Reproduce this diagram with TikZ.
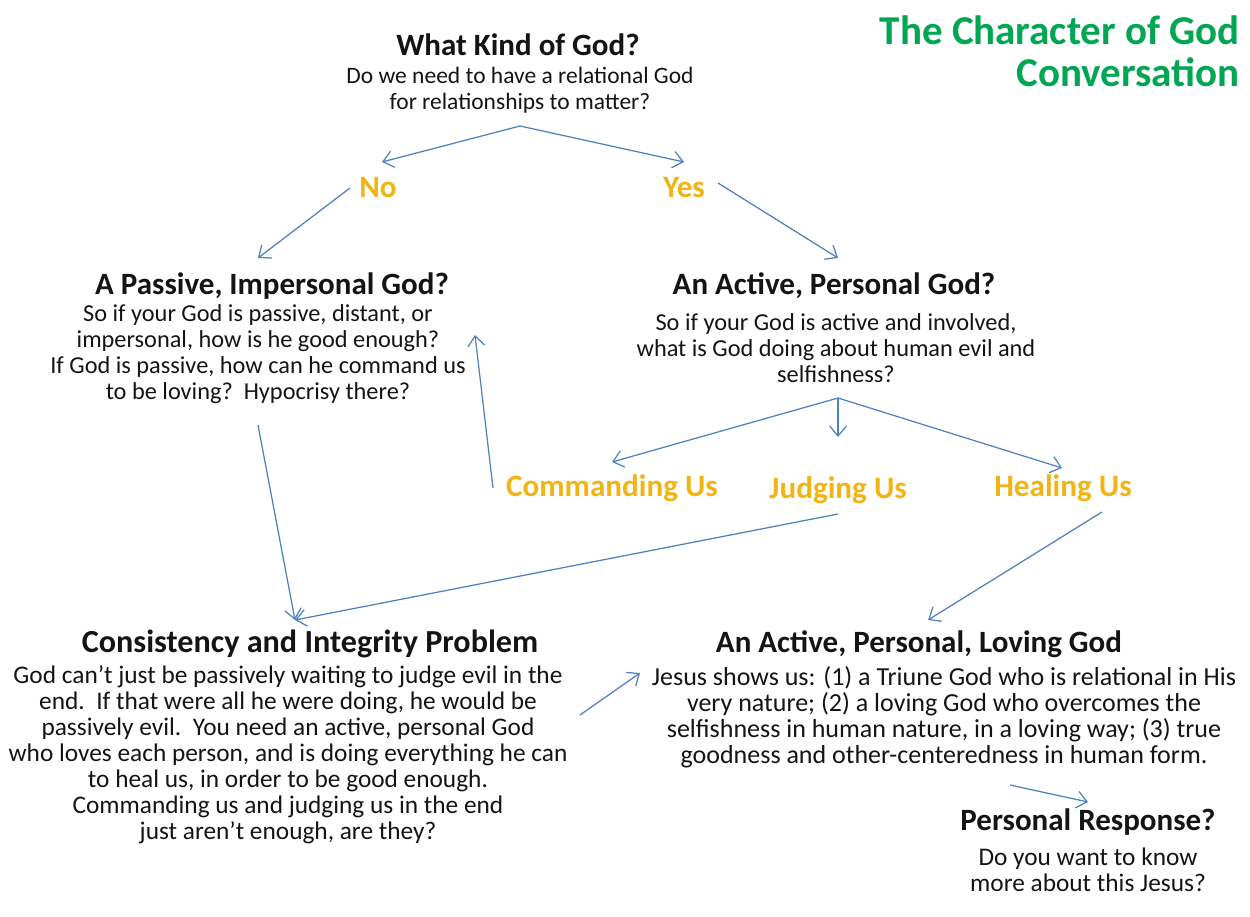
\documentclass[tikz,border=0pt]{standalone}
\usepackage{fontspec}
\setmainfont{Carlito}
\usetikzlibrary{arrows.meta}
\definecolor{arrowblue}{RGB}{79,129,189}
\definecolor{labelgold}{RGB}{242,180,20}
\definecolor{titlegreen}{RGB}{0,166,81}
\definecolor{textblack}{RGB}{20,20,20}
\tikzset{
  conn/.style={draw=arrowblue, line width=0.75pt, -{Straight Barb[length=6pt,width=10pt,line width=0.75pt]}},
  head/.style={font=\fontsize{18.6}{21}\selectfont\bfseries, text=textblack, inner sep=0pt, align=center},
  bodytext/.style={font=\fontsize{14.6}{15.6}\selectfont, text=textblack, inner sep=0pt, align=center},
  choice/.style={font=\fontsize{18.7}{21}\selectfont\bfseries, text=labelgold, inner sep=0pt, align=center},
  titletext/.style={font=\fontsize{24.6}{25.2}\selectfont\bfseries, text=titlegreen, inner sep=0pt, align=right}
}
\begin{document}
\begin{tikzpicture}[x=0.6pt,y=-0.6pt]
\useasboundingbox (0,0) rectangle (1250,917);
% title
\node[titletext, anchor=east] (title) at (1240,51) {The Character of God\\Conversation};
% top question
\node[head] (q1h) at (518,45) {What Kind of God?};
\node[bodytext, font=\fontsize{14.1}{15.6}\selectfont] (q1b) at (520,90) {Do we need to have a relational God\\for relationships to matter?};
% choices
\node[choice] (no) at (378,188) {No};
\node[choice] (yes) at (684,188) {Yes};
% passive
\node[head] (pash) at (272,286) {A Passive, Impersonal God?};
\node[bodytext] (pasb) at (258,354) {So if your God is passive, distant, or\\impersonal, how is he good enough?\\If God is passive, how can he command us\\to be loving?\ \ Hypocrisy there?};
% active
\node[head] (acth) at (834,286) {An Active, Personal God?};
\node[bodytext] (actb) at (836,348) {So if your God is active and involved,\\what is God doing about human evil and\\selfishness?};
% three options
\node[choice] (cmd) at (612,488) {Commanding Us};
\node[choice] (jdg) at (838,490) {Judging Us};
\node[choice] (heal) at (1063,488) {Healing Us};
% consistency
\node[head, font=\fontsize{19.3}{21}\selectfont\bfseries] (conh) at (310,644) {Consistency and Integrity Problem};
\node[bodytext, font=\fontsize{15.2}{15.6}\selectfont] (conb) at (288,755) {God can’t just be passively waiting to judge evil in the\\end.\ \ If that were all he were doing, he would be\\passively evil.\ \ You need an active, personal God\\who loves each person, and is doing everything he can\\to heal us, in order to be good enough.\\Commanding us and judging us in the end\\just aren’t enough, are they?};
% loving
\node[head] (lovh) at (919,644) {An Active, Personal, Loving God};
\node[bodytext, font=\fontsize{15.6}{15.6}\selectfont] (lovb) at (944,717) {Jesus shows us: (1) a Triune God who is relational in His\\very nature; (2) a loving God who overcomes the\\selfishness in human nature, in a loving way; (3) true\\goodness and other-centeredness in human form.};
% response
\node[head] (resh) at (1088,822) {Personal Response?};
\node[bodytext, font=\fontsize{15.2}{15.6}\selectfont] (resb) at (1088,870) {Do you want to know\\more about this Jesus?};
% connector end points
\coordinate (q1out) at (520,126);
\coordinate (noin) at (382,162);
\coordinate (yesin) at (684,162);
\coordinate (noout) at (350,188);
\coordinate (pasin) at (258,258);
\coordinate (yesout) at (718,183);
\coordinate (actin) at (838,258);
\coordinate (actout) at (838,398);
\coordinate (cmdin) at (612,462);
\coordinate (jdgin) at (838,437);
\coordinate (healin) at (1062,468);
\coordinate (cmdout) at (493,488);
\coordinate (pasret) at (475,335);
\coordinate (pasout) at (258,425);
\coordinate (conin) at (295,620);
\coordinate (jdgout) at (838,514);
\coordinate (healout) at (1102,512);
\coordinate (lovin) at (928,620);
\coordinate (conout) at (580,715);
\coordinate (lovside) at (640,673);
\coordinate (lovout) at (1010,785);
\coordinate (resin) at (1088,802);
% connectors
\draw[conn] (q1out) -- (noin);
\draw[conn] (q1out) -- (yesin);
\draw[conn] (noout) -- (pasin);
\draw[conn] (yesout) -- (actin);
\draw[conn] (actout) -- (cmdin);
\draw[conn] (actout) -- (jdgin);
\draw[conn] (actout) -- (healin);
\draw[conn] (cmdout) -- (pasret);
\draw[conn] (pasout) -- (conin);
\draw[conn] (jdgout) -- (conin);
\draw[conn] (healout) -- (lovin);
\draw[conn] (conout) -- (lovside);
\draw[conn] (lovout) -- (resin);
\end{tikzpicture}
\end{document}
